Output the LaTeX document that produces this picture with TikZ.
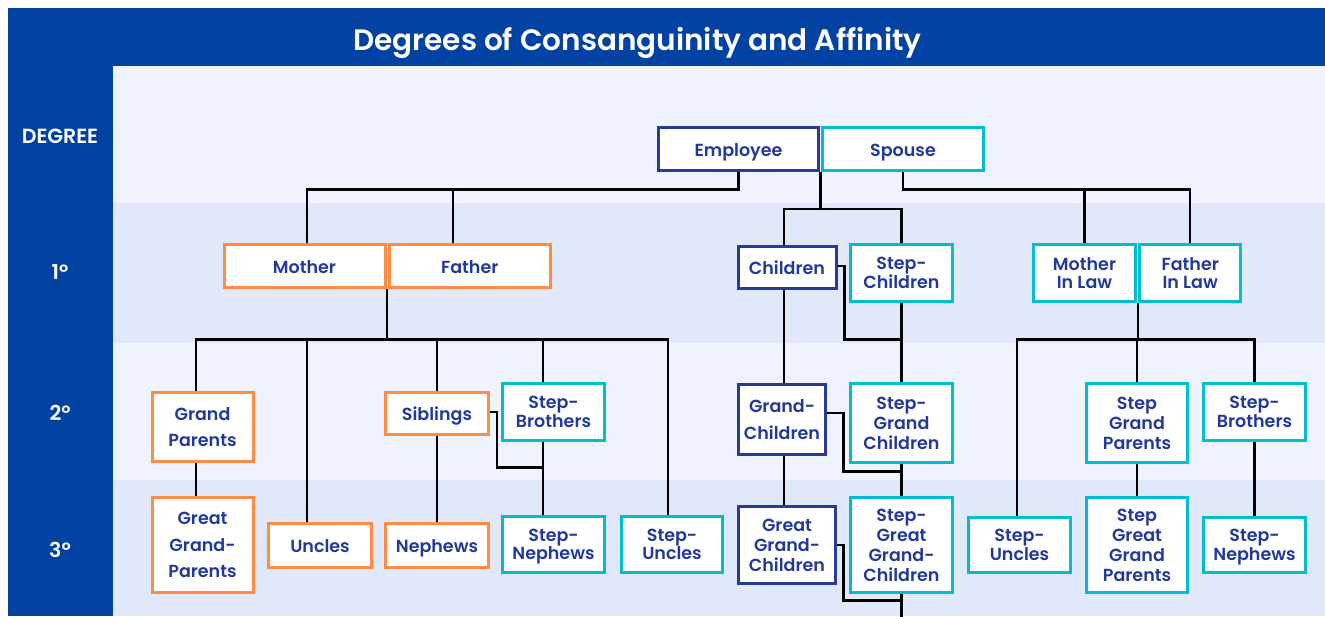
\documentclass[tikz,border=0pt]{standalone}
\usepackage{fontspec}
\setmainfont{Poppins}[BoldFont={Poppins SemiBold}]
\newfontfamily\popsemi{Poppins SemiBold}
\usepackage{tikz}
\usetikzlibrary{calc,positioning}

\definecolor{band}{HTML}{0242A3}
\definecolor{rowA}{HTML}{EEF3FD}
\definecolor{rowB}{HTML}{E0E8FA}
\definecolor{navy}{HTML}{283C93}
\definecolor{inktext}{HTML}{23399A}
\definecolor{kinorange}{HTML}{FF8B45}
\definecolor{affcyan}{HTML}{00BDD0}

\begin{document}
\begin{tikzpicture}[x=1pt,y=-1pt,line join=miter,
                    link/.style={draw=black,line width=2.1pt},
                    sz/.style 2 args={minimum width=#1pt,minimum height=#2pt}]
  \tikzstyle{box}=[rectangle,fill=white,line width=3pt,inner sep=1pt,align=center,
                   text=inktext,text depth=0pt,execute at begin node={\rule{0pt}{14pt}},
                   font=\popsemi\fontsize{17.5}{18.5}\selectfont]
  \tikzstyle{loose}=[font=\popsemi\fontsize{17.5}{26.5}\selectfont]
  \tikzstyle{mid}=[font=\popsemi\fontsize{17.5}{20}\selectfont]
  \tikzstyle{emp}=[box,draw=navy]
  \tikzstyle{kin}=[box,draw=kinorange]
  \tikzstyle{aff}=[box,draw=affcyan]
  \tikzstyle{deg}=[text=white,font=\bfseries\fontsize{20.5}{23}\selectfont]

  \useasboundingbox (0,0) rectangle (1325,616);
  % frame and degree rows
  \fill[band] (8,8) rectangle (1325,616);
  \fill[rowA] (113,66) rectangle (1325,203);
  \fill[rowB] (113,203) rectangle (1325,343);
  \fill[rowA] (113,343) rectangle (1325,480);
  \fill[rowB] (113,480) rectangle (1325,616);

  \node[text=white,font=\popsemi\fontsize{29.5}{33}\selectfont] (title) at (637.5,42.5) {Degrees of Consanguinity and Affinity};
  \node[deg] (d0) at (60,136) {DEGREE};
  \node[deg] (d1) at (60,272) {1º};
  \node[deg] (d2) at (60,412.5) {2º};
  \node[deg] (d3) at (60,550) {3º};

  % degree 0
  \node[emp,sz={160}{43}] (emp) at (738.5,149) {Employee};
  \node[aff,sz={161}{43}] (spouse) at (903,149) {Spouse};

  % degree 1
  \node[kin,sz={161}{43}] (mother) at (304.5,266) {Mother};
  \node[kin,sz={161}{43}] (father) [right=1.2pt of mother] {Father};
  \node[emp,sz={98}{42}] (children) at (787,267.5) {Children};
  \node[aff,sz={102}{57}] (stepch) at (901.5,273) {Step-\\Children};
  \node[aff,sz={102}{57}] (mil) at (1084.5,273) {Mother\\In Law};
  \node[aff,sz={101}{57}] (fil) [right=1.2pt of mil] {Father\\In Law};

  % degree 2
  \node[kin,loose,sz={101}{69}] (gp) at (202.5,427) {Grand\\Parents};
  \node[kin,sz={103}{42}] (sib) at (437,413.5) {Siblings};
  \node[aff,sz={102}{57}] (sbroL) at (553.5,412) {Step-\\Brothers};
  \node[emp,loose,sz={87}{70}] (gch) at (782,419.5) {Grand-\\Children};
  \node[aff,mid,sz={102}{79}] (sgc) at (901.5,423) {Step-\\Grand\\Children};
  \node[aff,mid,sz={101}{79}] (sgp) at (1137,423) {Step\\Grand\\Parents};
  \node[aff,sz={102}{57}] (sbroR) at (1254.5,412) {Step-\\Brothers};

  % degree 3
  \node[kin,loose,sz={101}{95}] (ggp) at (202.5,545) {Great\\Grand-\\Parents};
  \node[kin,sz={103}{44}] (uncL) at (320,545) {Uncles};
  \node[kin,sz={103}{44}] (nep) at (437,545.5) {Nephews};
  \node[aff,sz={102}{56}] (snepL) at (553.5,544.5) {Step-\\Nephews};
  \node[aff,sz={101}{56}] (sunL) at (672,544.5) {Step-\\Uncles};
  \node[emp,mid,sz={97}{77}] (ggch) at (787,545) {Great\\Grand-\\Children};
  \node[aff,mid,sz={102}{95}] (sggc) at (901.5,545) {Step-\\Great\\Grand-\\Children};
  \node[aff,sz={102}{55}] (sunR) at (1019.5,545) {Step-\\Uncles};
  \node[aff,mid,sz={101}{95}] (sggp) at (1137,545) {Step\\Great\\Grand\\Parents};
  \node[aff,sz={102}{55}] (snepR) at (1254.5,545) {Step-\\Nephews};

  % junctions
  \coordinate (ej) at ([yshift=-17.5pt]emp.south);
  \coordinate (couple) at ($(emp.south east)!.5!(spouse.south west)$);
  \coordinate (cj) at ([yshift=-37pt]couple);
  \coordinate (sj) at ([yshift=-17.5pt]spouse.south);
  \coordinate (pc) at ($(mother.south east)!.5!(father.south west)$);
  \coordinate (pj) at ([yshift=-50.5pt]pc);
  \coordinate (lc) at ($(mil.south east)!.5!(fil.south west)$);
  \coordinate (lj) at ([yshift=-36.5pt]lc);
  \coordinate (scj) at (stepch.south |- pj);
  \coordinate (sgj) at ([yshift=-7.5pt]sgc.south);
  \coordinate (sggj) at ([yshift=-6.5pt]sggc.south);
  \coordinate (bot) at ([yshift=-25pt]sggc.south);
  \coordinate (sbj) at ([xshift=-10.5pt,yshift=-25.5pt]sbroL.south);

  % employee and spouse lines
  \draw[link] (emp.south) -- (ej) -| ([xshift=2.5pt]mother.north);
  \draw[link] (ej) -| ([xshift=-17pt]father.north);
  \draw[link] (couple) -- (cj) -| ([xshift=-3pt]children.north);
  \draw[link] (cj) -| (stepch.north);
  \draw[link] (spouse.south) -- (sj) -| (fil.north);
  \draw[link] (sj) -| (mil.north);

  % parents
  \draw[link] (pc) -- (pj);
  \foreach \n/\dx in {gp/-6.5,uncL/-13,sib/0,sbroL/-10.5,sunL/-4}
    \draw[link] (pj) -| ([xshift=\dx pt]\n.north);
  \draw[link] ([xshift=-6.5pt]gp.south) -- ([xshift=-6.5pt]ggp.north);
  \draw[link] (sib.south) -- (nep.north);
  \draw[link] ([yshift=1.5pt]sib.east) -- ++(7,0) |- (sbj);
  \draw[link] ([xshift=-10.5pt]sbroL.south) -- ([xshift=-10.5pt]snepL.north);

  % children
  \draw[link] ([yshift=1.5pt]children.east) -- ++(7,0) |- (scj);
  \draw[link] (stepch.south) -- (sgc.north);
  \draw[link] ([xshift=-3pt]children.south) -- ([xshift=2pt]gch.north);
  \draw[link] ([yshift=6.5pt]gch.east) -- ++(16.5,0) |- (sgj);
  \draw[link] (sgc.south) -- (sggc.north);
  \draw[link] ([xshift=2pt]gch.south) -- ([xshift=-3pt]ggch.north);
  \draw[link] (ggch.east) -- ++(6.5,0) |- (sggj);
  \draw[link] (sggc.south) -- (bot);

  % in-laws
  \draw[link] (lc) -- (lj);
  \foreach \n/\dx in {sunR/-2.5,sgp/0,sbroR/0}
    \draw[link] (lj) -| ([xshift=\dx pt]\n.north);
  \draw[link] (sgp.south) -- (sggp.north);
  \draw[link] (sbroR.south) -- (snepR.north);
\end{tikzpicture}
\end{document}
